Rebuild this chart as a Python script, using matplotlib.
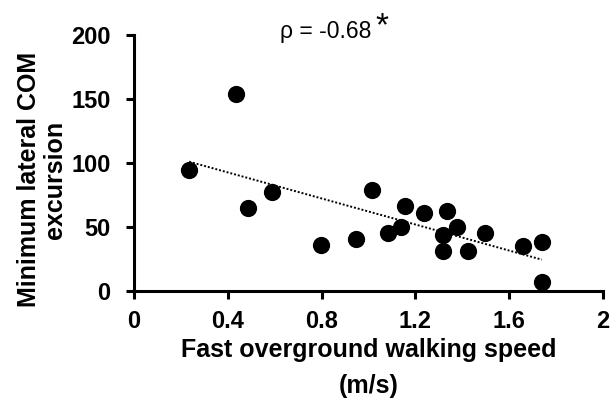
import numpy as np
import matplotlib
matplotlib.use("Agg")
import matplotlib.pyplot as plt

# Values
walking_speed = [0.235, 0.437, 0.486, 0.590, 0.799, 0.948, 1.016, 1.082, 1.139, 1.157,
                 1.238, 1.333, 1.316, 1.316, 1.377, 1.423, 1.498, 1.657, 1.739, 1.739]
com_excursion = [94.5, 153.9, 65.1, 77.6, 35.9, 40.4, 78.9, 45.1, 50.3, 66.4,
                 61.2, 62.5, 43.7, 31.5, 50.3, 31.5, 45.1, 35.2, 38.0, 6.8]
x_ticks = [0, 0.4, 0.8, 1.2, 1.6, 2]
x_tick_labels = ["0", "0.4", "0.8", "1.2", "1.6", "2"]
y_ticks = [0, 50, 100, 150, 200]
rho_text = "ρ = -0.68"

plt.rcParams['font.family'] = ['Liberation Sans', 'DejaVu Sans']

fig = plt.figure(figsize=(6.14, 4.0), dpi=100)
ax = fig.add_axes([134 / 614, 1 - 291 / 400, (603 - 134) / 614, (291 - 35) / 400])

# linear trendline like Excel's
slope, intercept = np.polyfit(walking_speed, com_excursion, 1)
fit_x = np.array([min(walking_speed), max(walking_speed)])
ax.plot(fit_x, slope * fit_x + intercept, color="black", linestyle=(0, (1, 1)), linewidth=1.4, zorder=2)

ax.scatter(walking_speed, com_excursion, s=130, color="black", zorder=3, clip_on=False)

ax.set_xlim(0, 2)
ax.set_ylim(0, 200)
ax.set_xticks(x_ticks)
ax.set_xticklabels(x_tick_labels)
ax.set_yticks(y_ticks)

for side in ["top", "right"]:
    ax.spines[side].set_visible(False)
for side in ["left", "bottom"]:
    ax.spines[side].set_linewidth(2.2)
ax.tick_params(direction="out", length=6, width=2.2, labelsize=17)
ax.tick_params(axis="x", pad=8)
ax.tick_params(axis="y", pad=11)
for lbl in ax.get_xticklabels() + ax.get_yticklabels():
    lbl.set_fontweight("bold")

ax.set_xlabel("Fast overground walking speed\n(m/s)", fontsize=18, fontweight="bold", linespacing=1.6)
ax.set_ylabel("Minimum lateral COM\nexcursion", fontsize=18, fontweight="bold", linespacing=1.12)
ax.xaxis.set_label_coords(0.5, -0.184, transform=ax.transAxes)
ax.xaxis.label.set_va("top")
ax.yaxis.set_label_coords(-0.196, 0.434, transform=ax.transAxes)
ax.yaxis.label.set_va("center")

ax.text(0.409, 0.988, rho_text, transform=ax.transAxes, fontsize=16.5, ha="center", va="baseline")
ax.text(0.514, 1.0, "*", transform=ax.transAxes, fontsize=24, ha="left", va="baseline")

fig.savefig("out.png", dpi=100)
